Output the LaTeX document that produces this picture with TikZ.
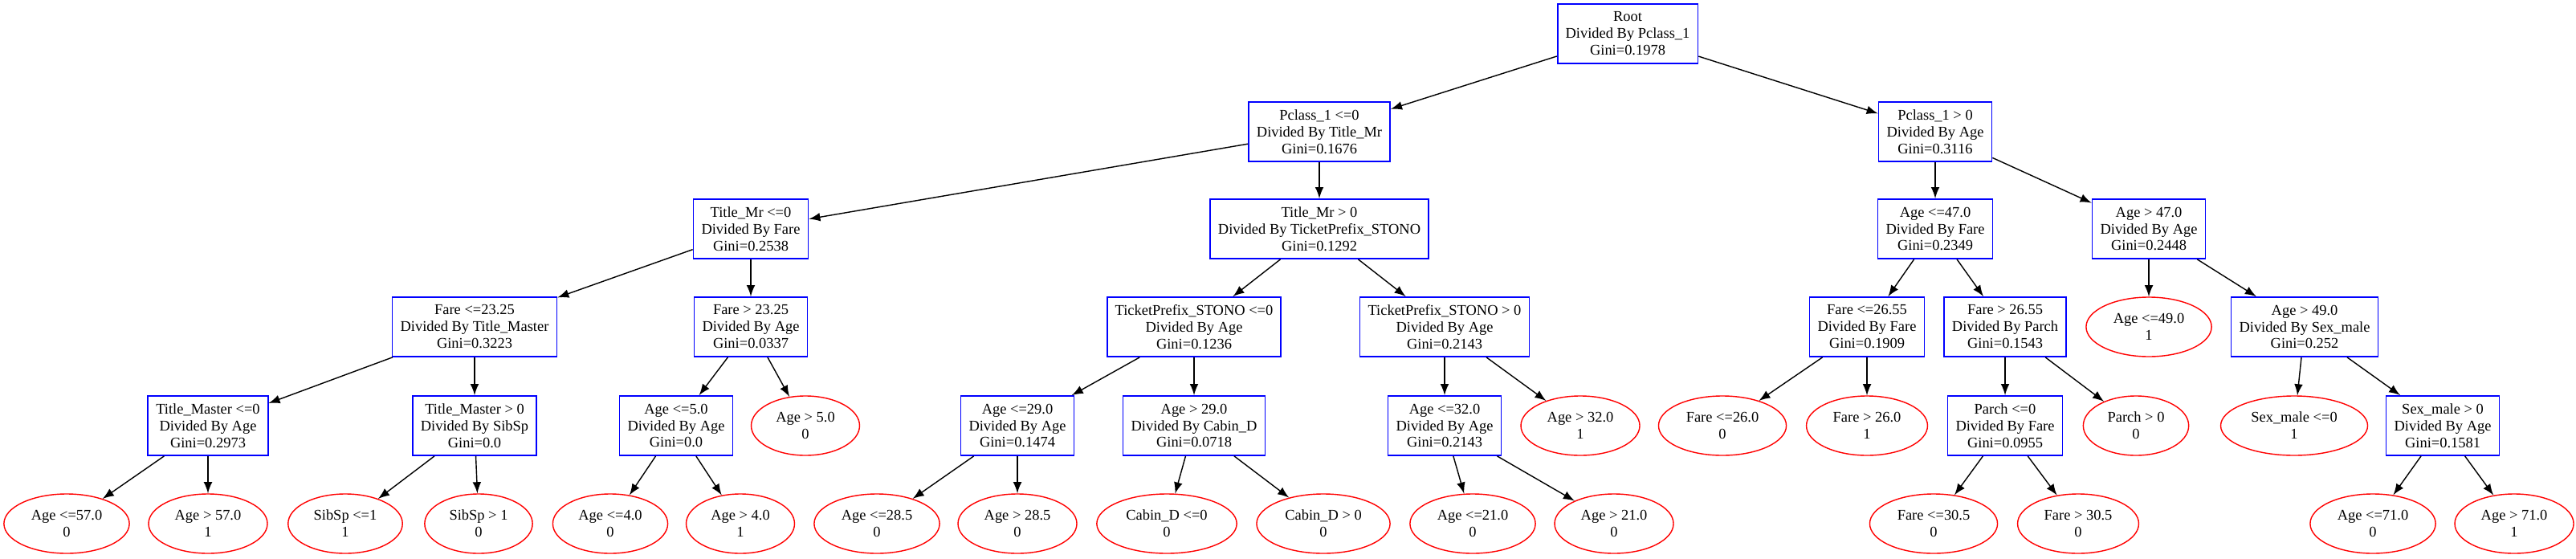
\documentclass[tikz,border=0pt]{standalone}
\usepackage{fontspec}
\setmainfont{Liberation Serif}
\usetikzlibrary{shapes.geometric}

\begin{document}
\begin{tikzpicture}[
  font=\fontsize{5.25}{5.97}\selectfont,
  split/.style={draw=blue,line width=0.5pt,rectangle,align=center,inner xsep=0.1cm,inner ysep=0.05cm,minimum height=0.74cm},
  leaf/.style={draw=red,line width=0.4pt,ellipse,align=center,inner xsep=0.11cm,inner ysep=0.03cm,minimum height=0.74cm}
]
\useasboundingbox (0,0) rectangle (32.08,6.95);

% level 0 and 1
\node (root) at (20.27, 6.53) [split] {Root\\Divided By Pclass\_1\\Gini=0.1978};
\node (pcLe) at (16.43, 5.31) [split] {Pclass\_1 <=0\\Divided By Title\_Mr\\Gini=0.1676};
\node (pcGt) at (24.10, 5.31) [split] {Pclass\_1 > 0\\Divided By Age\\Gini=0.3116};

% level 2
\node (mrLe)   at ( 9.35, 4.10) [split] {Title\_Mr <=0\\Divided By Fare\\Gini=0.2538};
\node (mrGt)   at (16.43, 4.10) [split] {Title\_Mr > 0\\Divided By TicketPrefix\_STONO\\Gini=0.1292};
\node (ageLeA) at (24.10, 4.10) [split] {Age <=47.0\\Divided By Fare\\Gini=0.2349};
\node (ageGtA) at (26.76, 4.10) [split] {Age > 47.0\\Divided By Age\\Gini=0.2448};

% level 3
\node (fareLeA) at ( 5.91, 2.88) [split] {Fare <=23.25\\Divided By Title\_Master\\Gini=0.3223};
\node (fareGtA) at ( 9.35, 2.88) [split] {Fare > 23.25\\Divided By Age\\Gini=0.0337};
\node (tpLe)    at (14.87, 2.88) [split] {TicketPrefix\_STONO <=0\\Divided By Age\\Gini=0.1236};
\node (tpGt)    at (17.99, 2.88) [split] {TicketPrefix\_STONO > 0\\Divided By Age\\Gini=0.2143};
\node (fareLeB) at (23.25, 2.88) [split] {Fare <=26.55\\Divided By Fare\\Gini=0.1909};
\node (fareGtB) at (24.97, 2.88) [split] {Fare > 26.55\\Divided By Parch\\Gini=0.1543};
\node (ageLeB)  at (26.76, 2.88) [leaf]  {Age <=49.0\\1};
\node (ageGtB)  at (28.70, 2.88) [split] {Age > 49.0\\Divided By Sex\_male\\Gini=0.252};

% level 4
\node (maLe)    at ( 2.59, 1.65) [split] {Title\_Master <=0\\Divided By Age\\Gini=0.2973};
\node (maGt)    at ( 5.91, 1.65) [split] {Title\_Master > 0\\Divided By SibSp\\Gini=0.0};
\node (ageLeC)  at ( 8.42, 1.65) [split] {Age <=5.0\\Divided By Age\\Gini=0.0};
\node (ageGtC)  at (10.03, 1.65) [leaf]  {Age > 5.0\\0};
\node (ageLeD)  at (12.67, 1.65) [split] {Age <=29.0\\Divided By Age\\Gini=0.1474};
\node (ageGtD)  at (14.87, 1.65) [split] {Age > 29.0\\Divided By Cabin\_D\\Gini=0.0718};
\node (ageLeE)  at (17.99, 1.65) [split] {Age <=32.0\\Divided By Age\\Gini=0.2143};
\node (ageGtE)  at (19.68, 1.65) [leaf]  {Age > 32.0\\1};
\node (fareLeC) at (21.45, 1.65) [leaf]  {Fare <=26.0\\0};
\node (fareGtC) at (23.25, 1.65) [leaf]  {Fare > 26.0\\1};
\node (parLe)   at (24.97, 1.65) [split] {Parch <=0\\Divided By Fare\\Gini=0.0955};
\node (parGt)   at (26.60, 1.65) [leaf]  {Parch > 0\\0};
\node (sexLe)   at (28.57, 1.65) [leaf]  {Sex\_male <=0\\1};
\node (sexGt)   at (30.42, 1.65) [split] {Sex\_male > 0\\Divided By Age\\Gini=0.1581};

% level 5
\node (ageLeF)  at ( 0.83, 0.43) [leaf] {Age <=57.0\\0};
\node (ageGtF)  at ( 2.59, 0.43) [leaf] {Age > 57.0\\1};
\node (sibLe)   at ( 4.30, 0.43) [leaf] {SibSp <=1\\1};
\node (sibGt)   at ( 5.96, 0.43) [leaf] {SibSp > 1\\0};
\node (ageLeG)  at ( 7.60, 0.43) [leaf] {Age <=4.0\\0};
\node (ageGtG)  at ( 9.22, 0.43) [leaf] {Age > 4.0\\1};
\node (ageLeH)  at (10.92, 0.43) [leaf] {Age <=28.5\\0};
\node (ageGtH)  at (12.67, 0.43) [leaf] {Age > 28.5\\0};
\node (cabLe)   at (14.53, 0.43) [leaf] {Cabin\_D <=0\\0};
\node (cabGt)   at (16.48, 0.43) [leaf] {Cabin\_D > 0\\0};
\node (ageLeI)  at (18.34, 0.43) [leaf] {Age <=21.0\\0};
\node (ageGtI)  at (20.10, 0.43) [leaf] {Age > 21.0\\0};
\node (fareLeD) at (24.08, 0.43) [leaf] {Fare <=30.5\\0};
\node (fareGtD) at (25.88, 0.43) [leaf] {Fare > 30.5\\0};
\node (ageLeJ)  at (29.55, 0.43) [leaf] {Age <=71.0\\0};
\node (ageGtJ)  at (31.31, 0.43) [leaf] {Age > 71.0\\1};

\draw [-latex] (root)    -- (pcLe);
\draw [-latex] (root)    -- (pcGt);
\draw [-latex] (pcLe)    -- (mrLe);
\draw [-latex] (pcLe)    -- (mrGt);
\draw [-latex] (pcGt)    -- (ageLeA);
\draw [-latex] (pcGt)    -- (ageGtA);
\draw [-latex] (mrLe)    -- (fareLeA);
\draw [-latex] (mrLe)    -- (fareGtA);
\draw [-latex] (mrGt)    -- (tpLe);
\draw [-latex] (mrGt)    -- (tpGt);
\draw [-latex] (ageLeA)  -- (fareLeB);
\draw [-latex] (ageLeA)  -- (fareGtB);
\draw [-latex] (ageGtA)  -- (ageLeB);
\draw [-latex] (ageGtA)  -- (ageGtB);
\draw [-latex] (fareLeA) -- (maLe);
\draw [-latex] (fareLeA) -- (maGt);
\draw [-latex] (fareGtA) -- (ageLeC);
\draw [-latex] (fareGtA) -- (ageGtC);
\draw [-latex] (tpLe)    -- (ageLeD);
\draw [-latex] (tpLe)    -- (ageGtD);
\draw [-latex] (tpGt)    -- (ageLeE);
\draw [-latex] (tpGt)    -- (ageGtE);
\draw [-latex] (fareLeB) -- (fareLeC);
\draw [-latex] (fareLeB) -- (fareGtC);
\draw [-latex] (fareGtB) -- (parLe);
\draw [-latex] (fareGtB) -- (parGt);
\draw [-latex] (ageGtB)  -- (sexLe);
\draw [-latex] (ageGtB)  -- (sexGt);
\draw [-latex] (maLe)    -- (ageLeF);
\draw [-latex] (maLe)    -- (ageGtF);
\draw [-latex] (maGt)    -- (sibLe);
\draw [-latex] (maGt)    -- (sibGt);
\draw [-latex] (ageLeC)  -- (ageLeG);
\draw [-latex] (ageLeC)  -- (ageGtG);
\draw [-latex] (ageLeD)  -- (ageLeH);
\draw [-latex] (ageLeD)  -- (ageGtH);
\draw [-latex] (ageGtD)  -- (cabLe);
\draw [-latex] (ageGtD)  -- (cabGt);
\draw [-latex] (ageLeE)  -- (ageLeI);
\draw [-latex] (ageLeE)  -- (ageGtI);
\draw [-latex] (parLe)   -- (fareLeD);
\draw [-latex] (parLe)   -- (fareGtD);
\draw [-latex] (sexGt)   -- (ageLeJ);
\draw [-latex] (sexGt)   -- (ageGtJ);
\end{tikzpicture}
\end{document}
